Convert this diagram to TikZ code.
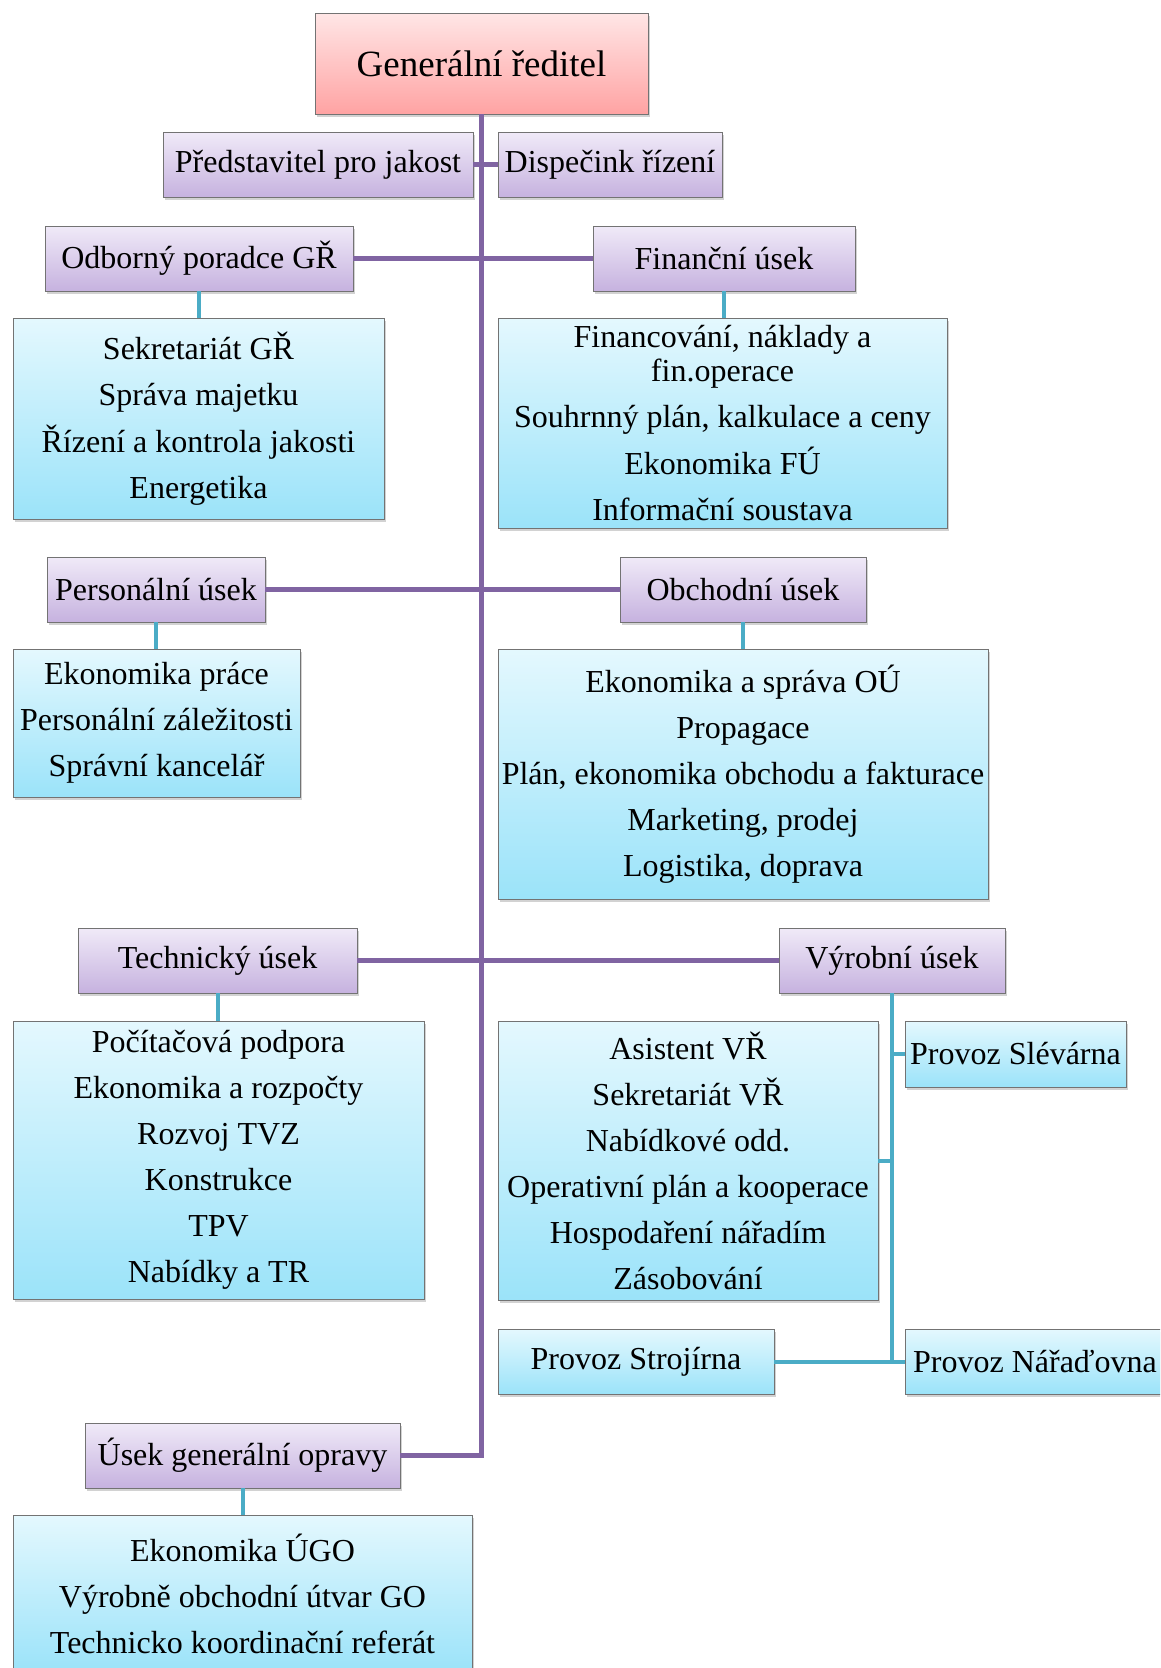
\documentclass[tikz,border=0pt]{standalone}
\usepackage{fontspec}
\setmainfont{Liberation Serif}
\newfontfamily\orgserif{Liberation Serif}
\usetikzlibrary{shadows}
\definecolor{trunkc}{HTML}{8064A2}
\definecolor{branchc}{HTML}{4BACC6}
\definecolor{redtop}{HTML}{FFE6E6}
\definecolor{redbot}{HTML}{FFA3A3}
\definecolor{purtop}{HTML}{F0EAF8}
\definecolor{purbot}{HTML}{C6B2DF}
\definecolor{bluetop}{HTML}{E4F8FE}
\definecolor{bluebot}{HTML}{9BE3F9}
\begin{document}
\begin{tikzpicture}[x=1pt,y=-1pt,
  base/.style={draw=black!55, line width=0.9pt, inner sep=1pt, align=center,
    font=\orgserif\fontsize{32}{34}\selectfont,
    drop shadow={shadow xshift=2pt,shadow yshift=-3pt,opacity=0.35}},
  redbox/.style={base, top color=redtop, bottom color=redbot, font=\orgserif\fontsize{37}{40}\selectfont},
  purbox/.style={base, top color=purtop, bottom color=purbot},
  bluebox/.style={base, top color=bluetop, bottom color=bluebot},
  pline/.style={draw=trunkc, line width=5pt},
  bline/.style={draw=branchc, line width=4pt},
]
\clip (0,0) rectangle (1160,1668);
\fill[white] (0,0) rectangle (1160,1668);

% nodes
\node[redbox, minimum width=333pt, minimum height=101pt] (gr) at (481.5,63.5) {Generální ředitel};
\node[purbox, minimum width=310pt, minimum height=65pt] (pred) at (318,164.5) {Představitel pro jakost};
\node[purbox, minimum width=224pt, minimum height=65pt] (disp) at (610,164.5) {Dispečink řízení};
\node[purbox, minimum width=308pt, minimum height=65pt] (odb) at (199,258.5) {Odborný poradce GŘ};
\node[purbox, minimum width=262pt, minimum height=65pt] (fin) at (724,258.5) {Finanční úsek};
\node[bluebox, minimum width=371pt, minimum height=201pt] (sek) at (198.5,418.5)
  {Sekretariát GŘ\\[12pt]Správa majetku\\[12pt]Řízení a kontrola jakosti\\[12pt]Energetika};
\node[bluebox, minimum width=449pt, minimum height=210pt] (finbox) at (722.5,423)
  {Financování, náklady a\\fin.operace\\[12pt]Souhrnný plán, kalkulace a ceny\\[12pt]Ekonomika FÚ\\[12pt]Informační soustava};
\node[purbox, minimum width=218pt, minimum height=65pt] (pers) at (156,589.5) {Personální úsek};
\node[purbox, minimum width=246pt, minimum height=65pt] (obch) at (743,589.5) {Obchodní úsek};
\node[bluebox, minimum width=287pt, minimum height=148pt] (ekp) at (156.5,723)
  {Ekonomika práce\\[12pt]Personální záležitosti\\[12pt]Správní kancelář};
\node[bluebox, minimum width=490pt, minimum height=250pt] (obchbox) at (743,774)
  {Ekonomika a správa OÚ\\[12pt]Propagace\\[12pt]Plán, ekonomika obchodu a fakturace\\[12pt]Marketing, prodej\\[12pt]Logistika, doprava};
\node[purbox, minimum width=279pt, minimum height=65pt] (tech) at (217.5,960.5) {Technický úsek};
\node[purbox, minimum width=226pt, minimum height=65pt] (vyr) at (892,960.5) {Výrobní úsek};
\node[bluebox, minimum width=411pt, minimum height=278pt] (pc) at (218.5,1160)
  {Počítačová podpora\\[12pt]Ekonomika a rozpočty\\[12pt]Rozvoj TVZ\\[12pt]Konstrukce\\[12pt]TPV\\[12pt]Nabídky a TR};
\node[bluebox, minimum width=380pt, minimum height=279pt] (as) at (688,1160.5)
  {Asistent VŘ\\[12pt]Sekretariát VŘ\\[12pt]Nabídkové odd.\\[12pt]Operativní plán a kooperace\\[12pt]Hospodaření nářadím\\[12pt]Zásobování};
\node[bluebox, minimum width=221pt, minimum height=66pt] (slev) at (1015.5,1054) {Provoz Slévárna};
\node[bluebox, minimum width=276pt, minimum height=65pt] (stroj) at (636,1361.5) {Provoz Strojírna};
\node[bluebox, minimum width=260pt, minimum height=65pt] (narad) at (1035,1361.5) {Provoz Nářaďovna};
\node[purbox, minimum width=315pt, minimum height=65pt] (ugo) at (242.5,1455.5) {Úsek generální opravy};
\node[bluebox, minimum width=459pt, minimum height=157pt] (ugobox) at (242.5,1593.5)
  {Ekonomika ÚGO\\[12pt]Výrobně obchodní útvar GO\\[12pt]Technicko koordinační referát};

% purple connectors
\coordinate (trunkend) at (gr.south |- ugo.east);
\draw[pline] (gr.south) -- (trunkend) -- (ugo.east);
\draw[pline] (pred.east) -- (disp.west);
\draw[pline] (odb.east) -- (fin.west);
\draw[pline] (pers.east) -- (obch.west);
\draw[pline] (tech.east) -- (vyr.west);

% blue connectors
\draw[bline] (odb.south) -- (odb.south |- sek.north);
\draw[bline] (fin.south) -- (fin.south |- finbox.north);
\draw[bline] (pers.south) -- (pers.south |- ekp.north);
\draw[bline] (obch.south) -- (obch.south |- obchbox.north);
\draw[bline] (tech.south) -- (tech.south |- pc.north);
\draw[bline] (ugo.south) -- (ugo.south |- ugobox.north);
\coordinate (vyrend) at (vyr.south |- stroj.east);
\draw[bline] (vyr.south) -- (vyrend);
\draw[bline] (vyr.south |- slev.west) -- (slev.west);
\draw[bline] (vyr.south |- as.east) -- (as.east);
\draw[bline] (stroj.east) -- (narad.west);
\end{tikzpicture}
\end{document}
